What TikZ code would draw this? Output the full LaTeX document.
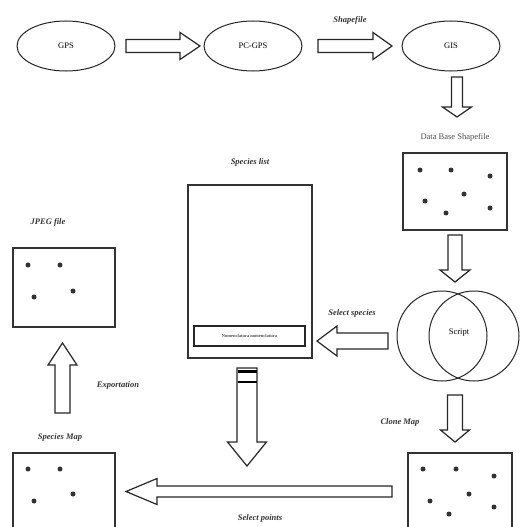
\documentclass[tikz,border=0pt]{standalone}
\usepackage{fontspec}
\setmainfont{Liberation Serif}
\newcommand\hArrow[6]{% xs xt y b h L
  \draw[blk] (#1,{#3-#4}) -- ({#2-#6},{#3-#4}) -- ({#2-#6},{#3-#5}) -- (#2,#3) -- ({#2-#6},{#3+#5}) -- ({#2-#6},{#3+#4}) -- (#1,{#3+#4}) -- cycle;}
\newcommand\vArrow[6]{% x ys yt b h L
  \draw[blk] ({#1-#4},#2) -- ({#1-#4},{#3-#6}) -- ({#1-#5},{#3-#6}) -- (#1,#3) -- ({#1+#5},{#3-#6}) -- ({#1+#4},{#3-#6}) -- ({#1+#4},#2) -- cycle;}
\tikzset{
  blk/.style={draw=black!85, line width=1.2pt, fill=white},
  ell/.style={draw=black!85, line width=1pt, ellipse, minimum width=98pt, minimum height=50pt, font=\fontsize{8.5}{10}\selectfont, inner sep=0pt},
  mapbox/.style={draw=black!80, line width=1.3pt},
  dot/.style={fill=black!80, circle, inner sep=0pt, minimum size=5pt},
  lbl/.style={font=\fontsize{8.5}{10}\selectfont\itshape\bfseries, text=black!80},
}
\usetikzlibrary{shapes.geometric}
\begin{document}
\begin{tikzpicture}[x=1pt,y=-1pt]
\useasboundingbox (0,0) rectangle (520,527);
% top row
\node[ell] (gps) at (66,46) {GPS};
\node[ell] (pcgps) at (253,46) {PC-GPS};
\node[ell] (gis) at (451,46) {GIS};
\hArrow{126}{200}{46}{6.5}{13.5}{20}
\hArrow{318}{392}{46}{6.5}{13.5}{19}
\node[lbl] (shp) at (350,20) {Shapefile};
\vArrow{457}{77}{117}{5.5}{14.5}{10}
% database
\node[font=\fontsize{8.5}{10}\selectfont, text=black!70] (dbl) at (455,137) {Data Base Shapefile};
\draw[mapbox] (403,153) rectangle (507,230);
\foreach \p in {(420,170),(451,170),(490,176),(425,201),(464,194),(446,213),(490,208)} \node[dot] at \p {};
\vArrow{455}{235}{282}{7}{15}{12}
% venn
\draw[black!85, line width=1pt] (442,336) circle (45);
\draw[black!85, line width=1pt] (474,336) circle (45);
\node[font=\fontsize{8.5}{10}\selectfont] (script) at (459,333) {Script};
\vArrow{455}{395}{442}{7.5}{14.5}{12}
\node[lbl] (clone) at (400,422) {Clone Map};
% clone box
\draw[mapbox] (408,529) -- (408,453) -- (512,453) -- (512,529);
\foreach \p in {(423,469),(456,469),(494,476),(430,501),(469,494),(449,514),(494,507)} \node[dot] at \p {};
% species list
\node[lbl] (sl) at (250,162) {Species list};
\draw[mapbox] (188,185) rectangle (312,358);
\draw[line width=1.4pt, black!85] (194,326) rectangle (305,346);
\node[font=\fontsize{4.5}{5}\selectfont\bfseries, text=black!70] (nom) at (249.5,336) {Nomenclatura nomenclatura};
\hArrow{388}{317}{341}{8}{15}{-20}
\node[lbl] (ss) at (352,313) {Select species};
% big down arrow
\vArrow{247}{368}{466}{10}{19.5}{24}
\draw[black, line width=2.2pt] (237.5,371.5) -- (256.5,371.5);
\draw[black, line width=2.5pt] (237.5,382) -- (256.5,382);
% big left arrow
\hArrow{392}{126}{491.5}{5.5}{13}{-31}
\node[lbl] (sp) at (260,518) {Select points};
% species map
\node[lbl] (smap) at (60,437) {Species Map};
\draw[mapbox] (13,529) -- (13,453) -- (115,453) -- (115,529);
\foreach \p in {(28,469),(60,469),(34,501),(73,494)} \node[dot] at \p {};
% export
\vArrow{62.5}{413}{343}{7.5}{14.5}{-22}
\node[lbl] (exp) at (118,385) {Exportation};
% jpeg
\node[lbl] (jpg) at (48,222) {JPEG file};
\draw[mapbox] (13,248) rectangle (115,327);
\foreach \p in {(28,265),(60,265),(34,297),(73,291)} \node[dot] at \p {};
\end{tikzpicture}
\end{document}
